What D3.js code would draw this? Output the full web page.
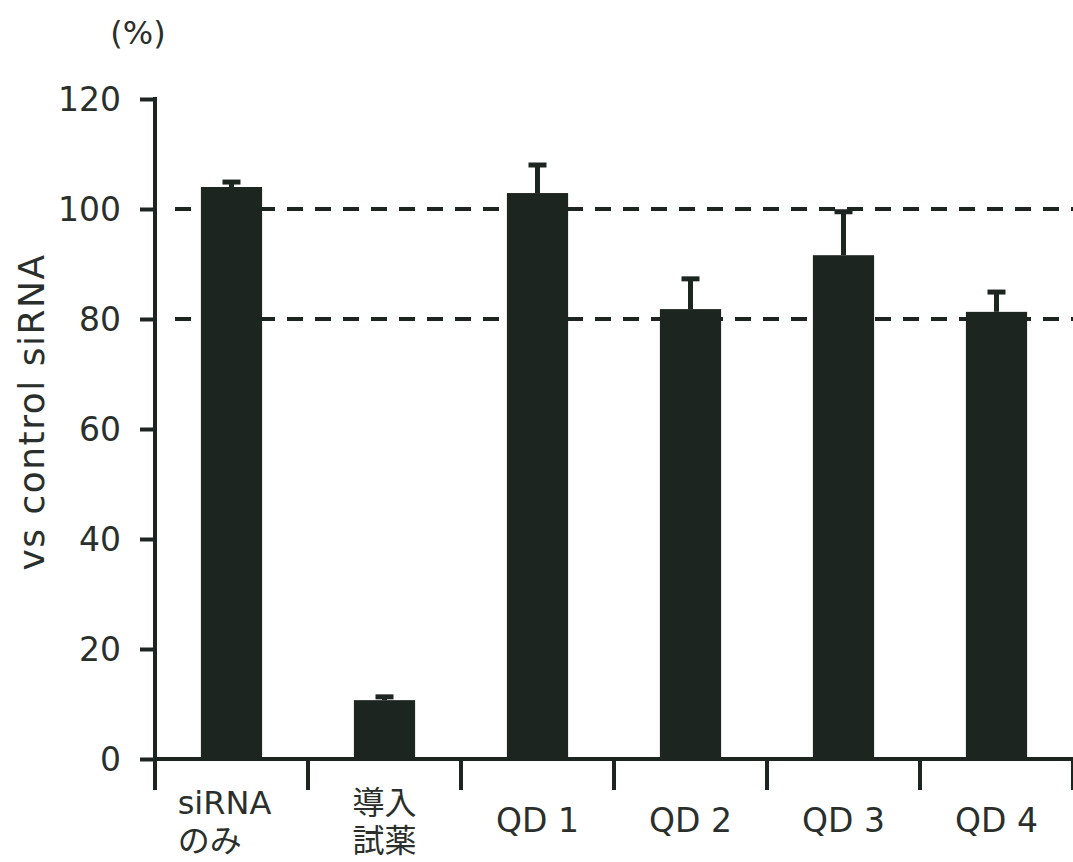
<!DOCTYPE html>
<html>
<head>
<meta charset="utf-8">
<script src="https://cdn.jsdelivr.net/npm/d3@7"></script>
<style>
  body { margin: 0; background: #fff; }
  text { font-family: "DejaVu Sans", "Noto Sans CJK JP", sans-serif; fill: #2a2f2c; }
</style>
</head>
<body>
<div id="chart"></div>
<script>
// data
var categories = ["siRNAのみ", "導入試薬", "QD 1", "QD 2", "QD 3", "QD 4"];
var labelLines = [["siRNA", "のみ"], ["導入", "試薬"], ["QD 1"], ["QD 2"], ["QD 3"], ["QD 4"]];
var values = [104.0, 10.7, 102.9, 81.8, 91.6, 81.3];
var errors = [0.9, 0.6, 5.1, 5.5, 7.9, 3.6];
var yTicks = [0, 20, 40, 60, 80, 100, 120];
var refLines = [100, 80];

var width = 1073, height = 862;
var ink = "#1d2521";

var svg = d3.select("#chart").append("svg")
  .attr("width", width)
  .attr("height", height);

var x = d3.scaleBand()
  .domain(categories)
  .range([155, 1073])
  .paddingInner(0.6)
  .paddingOuter(0.3);

var y = d3.scaleLinear()
  .domain([0, 120])
  .range([759, 99]);

// dashed reference lines (behind bars)
svg.append("g").selectAll("line")
  .data(refLines)
  .enter().append("line")
  .attr("x1", 175)
  .attr("x2", width)
  .attr("y1", d => y(d))
  .attr("y2", d => y(d))
  .attr("stroke", ink)
  .attr("stroke-width", 4)
  .attr("stroke-dasharray", "16,12");

// bars
svg.append("g").selectAll("rect")
  .data(categories)
  .enter().append("rect")
  .attr("x", d => x(d))
  .attr("width", x.bandwidth())
  .attr("y", (d, i) => y(values[i]))
  .attr("height", (d, i) => y(0) - y(values[i]))
  .attr("fill", ink);

// error bars (upper only)
var eb = svg.append("g");
categories.forEach(function(c, i) {
  var cx = x(c) + x.bandwidth() / 2;
  eb.append("line")
    .attr("x1", cx).attr("x2", cx)
    .attr("y1", y(values[i])).attr("y2", y(values[i] + errors[i]))
    .attr("stroke", ink).attr("stroke-width", 5);
  eb.append("line")
    .attr("x1", cx - 9).attr("x2", cx + 9)
    .attr("y1", y(values[i] + errors[i])).attr("y2", y(values[i] + errors[i]))
    .attr("stroke", ink).attr("stroke-width", 5);
});

// y axis
var yAxis = svg.append("g")
  .attr("transform", "translate(155,0)")
  .call(d3.axisLeft(y).tickValues(yTicks).tickSize(15).tickPadding(19).tickSizeOuter(0));
yAxis.select(".domain").remove();
yAxis.selectAll(".tick line").attr("stroke", ink).attr("stroke-width", 4);
yAxis.selectAll(".tick text")
  .attr("font-size", 33)
  .attr("fill", "#2a2f2c")
  .attr("dy", "0.36em");
svg.append("line")
  .attr("x1", 155).attr("x2", 155)
  .attr("y1", y(120) - 2).attr("y2", 790)
  .attr("stroke", ink).attr("stroke-width", 4);

// x axis line and ticks at band boundaries
svg.append("line")
  .attr("x1", 155).attr("x2", width)
  .attr("y1", y(0)).attr("y2", y(0))
  .attr("stroke", ink).attr("stroke-width", 4);
var bounds = d3.range(1, categories.length + 1).map(i => x.range()[0] + i * x.step());
svg.append("g").selectAll("line")
  .data(bounds)
  .enter().append("line")
  .attr("x1", d => d).attr("x2", d => d)
  .attr("y1", y(0)).attr("y2", 790)
  .attr("stroke", ink).attr("stroke-width", 4);

// category labels
var labels = svg.append("g");
categories.forEach(function(c, i) {
  var cx = x(c) + x.bandwidth() / 2;
  var lines = labelLines[i];
  if (lines.length === 1) {
    labels.append("text")
      .attr("x", cx).attr("y", 832)
      .attr("text-anchor", "middle")
      .attr("font-size", 33)
      .text(lines[0]);
  } else {
    var t = labels.append("text")
      .attr("x", cx).attr("y", 814)
      .attr("text-anchor", "middle")
      .attr("font-size", 32)
      .text(lines[0]);
    var w = t.node().getComputedTextLength();
    var left = cx - w / 2 - (i === 0 ? 7 : 0);
    t.attr("x", left).attr("text-anchor", "start");
    labels.append("text")
      .attr("x", left).attr("y", 852)
      .attr("text-anchor", "start")
      .attr("font-size", 32)
      .text(lines[1]);
  }
});

// axis title and unit
svg.append("text")
  .attr("transform", "translate(44,412) rotate(-90)")
  .attr("text-anchor", "middle")
  .attr("font-size", 36)
  .attr("letter-spacing", 1.5)
  .text("vs control siRNA");

svg.append("text")
  .attr("x", 138).attr("y", 44)
  .attr("text-anchor", "middle")
  .attr("font-size", 32)
  .text("(%)");
</script>
</body>
</html>
